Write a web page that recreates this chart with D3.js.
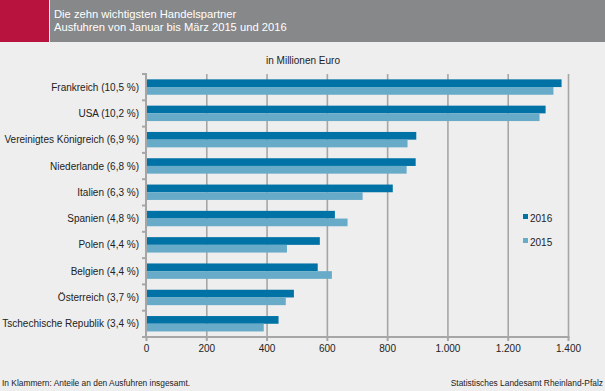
<!DOCTYPE html>
<html><head><meta charset="utf-8">
<script src="https://cdn.jsdelivr.net/npm/d3@7"></script>
<style>body{margin:0;background:#eeeeee}svg{display:block}text{font-family:"Liberation Sans",Arial,sans-serif}</style>
</head><body><svg id="c" width="605" height="391"></svg>
<script>
const categories = ["Frankreich (10,5 %)","USA (10,2 %)","Vereinigtes Königreich (6,9 %)","Niederlande (6,8 %)","Italien (6,3 %)","Spanien (4,8 %)","Polen (4,4 %)","Belgien (4,4 %)","Österreich (3,7 %)","Tschechische Republik (3,4 %)"];
const values2016 = [1377,1324,895,893,817,625,575,568,489,438];
const values2015 = [1350,1304,866,863,717,667,466,615,462,389];
const seriesNames = ["2016","2015"];
const xTicks = [0,200,400,600,800,1000,1200,1400];
const xTickLabels = ["0","200","400","600","800","1.000","1.200","1.400"];

const svg = d3.select("#c");
const colors = {"2016":"#0072a5","2015":"#67abc9"};
svg.append("rect").attr("width",605).attr("height",391).attr("fill","#eeeeee");
// header
svg.append("rect").attr("x",0).attr("y",0).attr("width",49).attr("height",42).attr("fill","#b8123f");
svg.append("rect").attr("x",50).attr("y",0).attr("width",555).attr("height",42).attr("fill","#878889");
svg.append("text").attr("x",54).attr("y",18).attr("fill","#fff").attr("font-size",11.2).text("Die zehn wichtigsten Handelspartner");
svg.append("text").attr("x",54).attr("y",31).attr("fill","#fff").attr("font-size",11.2).text("Ausfuhren von Januar bis März 2015 und 2016");

const x = d3.scaleLinear().domain([0,1400]).range([146.5,568.5]);
const y = d3.scaleBand().domain(categories).range([74,337]);
const inner = d3.scaleBand().domain(seriesNames).range([y.bandwidth()/2-7.8, y.bandwidth()/2+7.6]);

// gridlines
svg.append("g").selectAll("line").data(xTicks.slice(1)).join("line")
  .attr("x1",d=>x(d)).attr("x2",d=>x(d)).attr("y1",74).attr("y2",337)
  .attr("stroke","#a6a6a6").attr("stroke-width",1.6);

const data = categories.map((c,i)=>({c, v:{"2016":values2016[i],"2015":values2015[i]}}));
const g = svg.append("g");
data.forEach(d=>{
  seriesNames.forEach(s=>{
    g.append("rect").attr("x",x(0)).attr("y",y(d.c)+inner(s)).attr("width",x(d.v[s])-x(0))
      .attr("height",inner.bandwidth()).attr("fill",colors[s]);
  });
});

// y axis
const ya = svg.append("g");
ya.append("line").attr("x1",146).attr("x2",146).attr("y1",73).attr("y2",337).attr("stroke","#a6a6a6").attr("stroke-width",2);
const bounds = categories.map(c=>y(c)).concat([337]);
ya.selectAll("line.t").data(bounds).join("line").attr("class","t")
  .attr("x1",142).attr("x2",146).attr("y1",d=>d).attr("y2",d=>d).attr("stroke","#a6a6a6").attr("stroke-width",2);
ya.selectAll("text").data(categories).join("text")
  .attr("x",139).attr("y",d=>y(d)+y.bandwidth()/2+3.5).attr("text-anchor","end")
  .attr("font-size",10).attr("fill","#222").text(d=>d);

// x axis
const xa = svg.append("g");
xa.append("line").attr("x1",145).attr("x2",569.5).attr("y1",337).attr("y2",337).attr("stroke","#a6a6a6").attr("stroke-width",2);
xa.selectAll("line.t").data(xTicks).join("line").attr("class","t")
  .attr("x1",d=>x(d)).attr("x2",d=>x(d)).attr("y1",337).attr("y2",341).attr("stroke","#a6a6a6").attr("stroke-width",2);
xa.selectAll("text").data(xTicks).join("text")
  .attr("x",d=>x(d)).attr("y",352).attr("text-anchor","middle").attr("font-size",10).attr("fill","#222")
  .text((d,i)=>xTickLabels[i]);

svg.append("text").attr("x",303).attr("y",64).attr("text-anchor","middle").attr("font-size",10).attr("fill","#222").text("in Millionen Euro");

// legend
seriesNames.forEach((s,i)=>{
  svg.append("rect").attr("x",523).attr("y",214+i*24).attr("width",5).attr("height",5).attr("fill",colors[s]);
  svg.append("text").attr("x",530).attr("y",222+i*24).attr("font-size",10).attr("fill","#222").text(s);
});

// footer
svg.append("text").attr("x",2).attr("y",386).attr("font-size",8.4).attr("fill","#222").text("In Klammern: Anteile an den Ausfuhren insgesamt.");
svg.append("text").attr("x",603).attr("y",386).attr("text-anchor","end").attr("font-size",8.4).attr("fill","#222").text("Statistisches Landesamt Rheinland-Pfalz");
</script></body></html>
